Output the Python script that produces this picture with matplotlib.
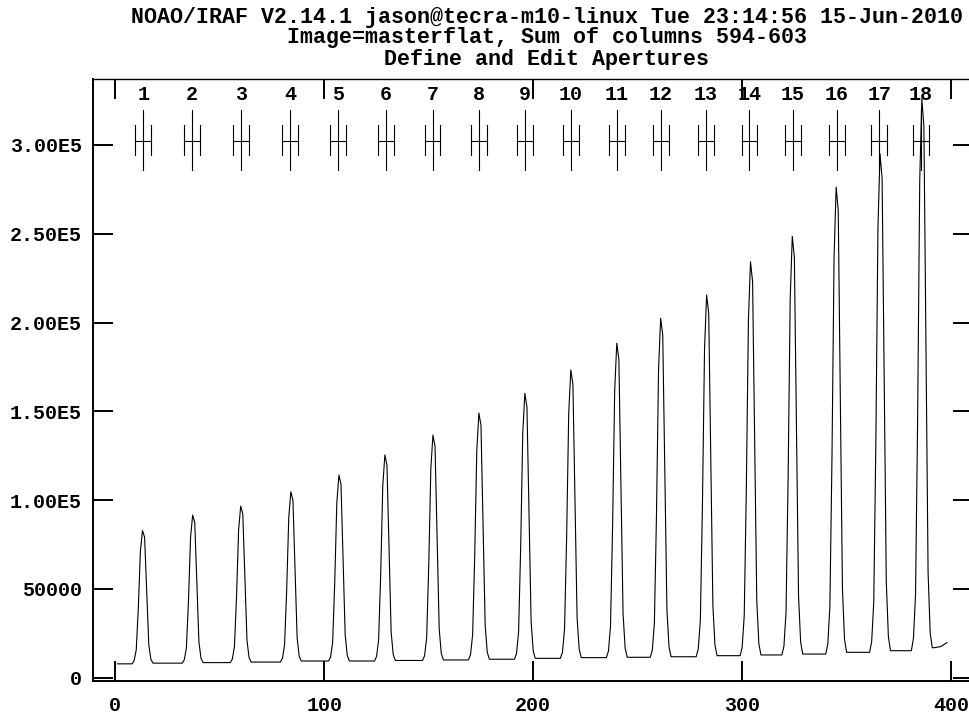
"""IRAF apextract-style plot: masterflat column sum with 18 aperture markers."""
import matplotlib as mpl; mpl.use("Agg")
import matplotlib.pyplot as plt

FONT = ["Liberation Mono", "DejaVu Sans Mono"]
mpl.rcParams.update({
    "font.family": FONT,
    "font.weight": "bold",
})

TITLE_LINES = [
    "NOAO/IRAF V2.14.1 jason@tecra-m10-linux Tue 23:14:56 15-Jun-2010",
    "Image=masterflat, Sum of columns 594-603",
    "Define and Edit Apertures",
]

# ── trace (counts in thousands) ───────────────────────────────────────────────
PEAK_COL = [13, 37, 60, 84, 107, 129, 152, 174, 196, 218,
            240, 261, 283, 304, 324, 345, 366, 386]
OFFSETS = [-4, -3, -2, -1, 0, 1, 2, 3, 4]
PEAK_ROWS = [
    [9.7, 15.7, 39.5, 71.6, 82.8, 79.1, 49.2, 18.6, 10.4],
    [10.1, 16.7, 43.3, 79.1, 91.6, 87.4, 54.2, 20.0, 10.9],
    [10.5, 17.5, 45.6, 83.4, 96.6, 92.2, 57.0, 21.0, 11.3],
    [11.0, 18.7, 49.3, 90.4, 104.7, 99.9, 61.7, 22.5, 12.0],
    [11.5, 19.9, 53.4, 98.4, 114.1, 108.9, 67.0, 24.1, 12.5],
    [11.8, 21.1, 58.2, 108.0, 125.4, 119.6, 73.2, 25.7, 13.0],
    [12.3, 22.5, 63.1, 117.6, 136.6, 130.3, 79.5, 27.6, 13.6],
    [13.0, 24.1, 68.5, 128.2, 149.0, 142.1, 86.5, 29.6, 14.4],
    [13.6, 25.6, 73.4, 137.7, 160.1, 152.6, 92.8, 31.5, 15.1],
    [14.3, 27.3, 79.2, 149.0, 173.3, 165.2, 100.3, 33.8, 16.0],
    [14.9, 29.1, 85.7, 161.8, 188.3, 179.5, 108.7, 36.2, 16.7],
    [15.4, 30.7, 91.7, 173.8, 202.4, 192.9, 116.5, 38.3, 17.3],
    [16.2, 32.4, 97.5, 185.0, 215.5, 205.3, 124.0, 40.6, 18.2],
    [17.0, 34.8, 105.7, 201.0, 234.2, 223.1, 134.5, 43.6, 19.2],
    [17.7, 36.6, 111.9, 213.2, 248.5, 236.7, 142.5, 46.0, 20.1],
    [19.0, 40.0, 124.0, 236.8, 276.2, 263.1, 158.1, 50.5, 21.7],
    [20.3, 42.7, 132.4, 253.0, 295.0, 281.0, 168.9, 53.9, 23.1],
    [22.2, 47.0, 146.2, 279.5, 326.0, 310.5, 186.5, 59.4, 25.3],
]
# flat levels between the peaks (before the first, between each pair, after the last)
TROUGH = [7.8, 8.2, 8.5, 8.8, 9.4, 9.4, 9.7, 10.0, 10.4, 10.9,
          11.3, 11.5, 11.8, 12.4, 12.8, 13.3, 14.3, 15.2, 16.9]
START_X, START_Y = 1, 7.8
TAIL_X = [392, 395, 398]
TAIL_Y = [16.9, 17.5, 19.7]

# ── apertures ────────────────────────────────────────────────────────────────
AP_CENTER = [13.4, 36.8, 60.3, 83.6, 106.5, 129.4, 151.8, 174.1, 196.0, 217.9,
             239.9, 261.1, 282.5, 303.5, 324.4, 345.2, 365.6, 385.5]
AP_HALF = 3.8
AP_LABELS = [str(i + 1) for i in range(len(AP_CENTER))]

X_TICKS = [0, 100, 200, 300, 400]
Y_TICKS = [0, 50000, 100000, 150000, 200000, 250000, 300000]
Y_TICK_LABELS = ["0", "50000", "1.00E5", "1.50E5", "2.00E5", "2.50E5", "3.00E5"]

# build polyline
xs, ys = [START_X], [START_Y]
for k, (c, row) in enumerate(zip(PEAK_COL, PEAK_ROWS)):
    xs.append(c - 5); ys.append(TROUGH[k])
    xs.extend(c + o for o in OFFSETS); ys.extend(row)
    xs.append(c + 5); ys.append(TROUGH[k + 1])
xs += TAIL_X; ys += TAIL_Y
ys = [v * 1000 for v in ys]

# ── figure ───────────────────────────────────────────────────────────────────
W, H = 969, 715
fig = plt.figure(figsize=(W / 100, H / 100), dpi=100)
L, R, B, T = 93, 973, 681, 79.3
ax = fig.add_axes([L / W, 1 - B / H, (R - L) / W, (B - T) / H])
ax.set_xlim(-10.7, 410.5)
ax.set_ylim(-1860, 336940)

ax.plot(xs, ys, color="black", lw=0.8, zorder=3)

# aperture markers
for c, lab in zip(AP_CENTER, AP_LABELS):
    ax.plot([c, c], [286000, 319800], color="black", lw=0.8)
    ax.plot([c - AP_HALF, c + AP_HALF], [302400, 302400], color="black", lw=0.8)
    for e in (c - AP_HALF, c + AP_HALF):
        ax.plot([e, e], [294400, 311300], color="black", lw=0.8)
    ax.text(c, 328400, lab, ha="center", va="center", fontsize=14.4)

ax.set_xticks(X_TICKS)
ax.set_xticklabels([str(v) for v in X_TICKS])
ax.set_yticks(Y_TICKS)
ax.set_yticklabels(Y_TICK_LABELS)
ax.tick_params(direction="in", length=14.4, width=1.4, top=True, right=True,
               labelsize=14.4, color="black")
ax.tick_params(axis="y", pad=7.9)
ax.tick_params(axis="x", pad=11.0)
ax.minorticks_off()
for s in ("left", "bottom"):
    ax.spines[s].set_linewidth(1.4)
for s in ("top", "right"):
    ax.spines[s].set_linewidth(1.0)

for i, line in enumerate(TITLE_LINES):
    fig.text(547 / W, 1 - (17 + 21 * i) / H, line, ha="center", va="center",
             fontsize=15.6)

fig.savefig("out.png", dpi=100, facecolor="white")
